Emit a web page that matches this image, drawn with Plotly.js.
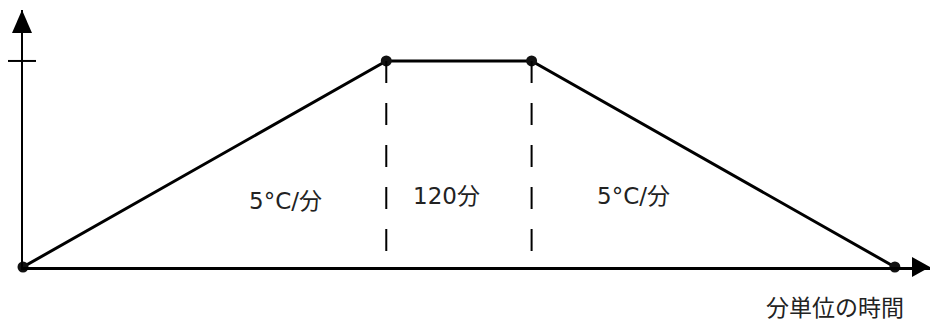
<!DOCTYPE html>
<html>
<head>
<meta charset="utf-8">
<script src="https://cdn.plot.ly/plotly-3.0.1.min.js"></script>
<style>
  html, body { margin: 0; padding: 0; background: #fff; }
  #grafico { width: 938px; height: 320px; }
</style>
</head>
<body>
<div id="grafico"></div>
<script>
// Perfil de temperatura: subida a 5°C/分, meseta de 120分, bajada a 5°C/分
const tiempo = [0, 300, 420, 720];        // minutos
const temperatura = [0, 1500, 1500, 0];   // °C (sin escala en el eje)

// Etiquetas de cada tramo
const etiquetas = ['5°C/分', '120分', '5°C/分'];
const etiquetaX = [217, 350, 504];
const etiquetaY = [481, 517, 517];
const tituloX = '分単位の時間';

const FUENTE = '"DejaVu Sans", Verdana, "Noto Sans CJK JP", sans-serif';

// Curva principal
const curva = {
    x: tiempo,
    y: temperatura,
    mode: 'lines+markers',
    line: { color: '#000', width: 3 },
    marker: { color: '#111', size: 11 },
    cliponaxis: false,
    hoverinfo: 'skip'
};

// Líneas discontinuas verticales al inicio y final de la meseta
const guias = [tiempo[1], tiempo[2]].map(t => ({
    x: [t, t],
    y: [temperatura[1], 0],
    mode: 'lines',
    line: { color: '#000', width: 2, dash: '22px,20px' },
    hoverinfo: 'skip'
}));

const layout = {
    width: 938,
    height: 320,
    paper_bgcolor: '#fff',
    plot_bgcolor: '#fff',
    margin: { l: 23, r: 8, t: 10, b: 53 },
    showlegend: false,
    font: { family: FUENTE, color: '#222', size: 23 },
    xaxis: {
        range: [0, 749],
        showline: true, linecolor: '#000', linewidth: 2.5,
        showgrid: false, zeroline: false, showticklabels: false, ticks: ''
    },
    yaxis: {
        range: [0, 1871],
        showline: true, linecolor: '#000', linewidth: 2.5,
        showgrid: false, zeroline: false, showticklabels: false, ticks: ''
    },
    shapes: [
        // punta de flecha del eje X
        {
            type: 'path', xref: 'paper', yref: 'paper',
            xsizemode: 'pixel', ysizemode: 'pixel', xanchor: 1, yanchor: 0,
            path: 'M0,0 L-18,10 L-18,-10 Z',
            fillcolor: '#000', line: { width: 0 }
        },
        // punta de flecha del eje Y
        {
            type: 'path', xref: 'paper', yref: 'paper',
            xsizemode: 'pixel', ysizemode: 'pixel', xanchor: 0, yanchor: 1,
            path: 'M-1,0 L-11,-23 L9,-23 Z',
            fillcolor: '#000', line: { width: 0 }
        },
        // marca en el nivel de la meseta
        {
            type: 'line', xref: 'paper', yref: 'y',
            xsizemode: 'pixel', xanchor: 0,
            x0: -15, x1: 13, y0: temperatura[1], y1: temperatura[1],
            line: { color: '#000', width: 2 }
        }
    ],
    annotations: etiquetas.map((txt, i) => ({
        x: etiquetaX[i], y: etiquetaY[i],
        xref: 'x', yref: 'y',
        text: txt, showarrow: false,
        font: { size: 23, color: '#222' }
    })).concat([{
        x: 1, y: 0, xref: 'paper', yref: 'paper',
        xanchor: 'right', yanchor: 'top', xshift: -24, yshift: -26,
        text: tituloX, showarrow: false,
        font: { size: 23, color: '#222' }
    }])
};

Plotly.newPlot('grafico', [curva, ...guias], layout, { staticPlot: true, displayModeBar: false });
</script>
</body>
</html>
